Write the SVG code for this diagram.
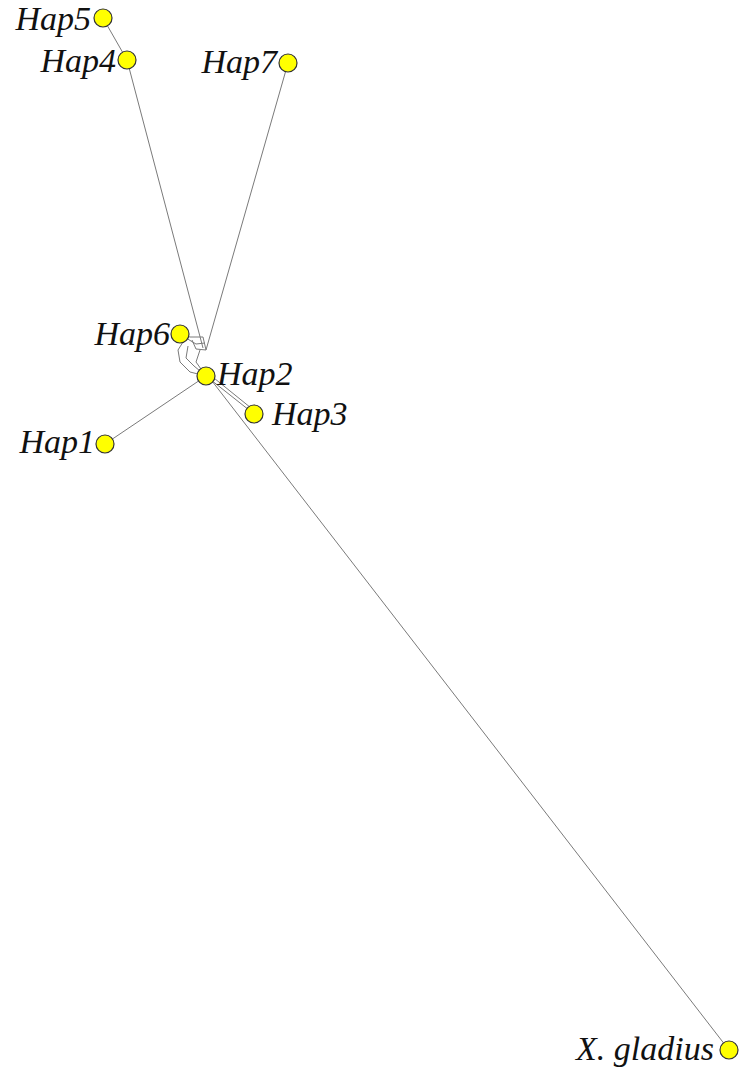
<svg xmlns="http://www.w3.org/2000/svg" width="743" height="1073" viewBox="0 0 743 1073">
<style>
.e{fill:none;stroke:#7a7a7a;stroke-width:1}
.n{fill:#ffff00;stroke:#333;stroke-width:1.2}
.t{font-family:"Liberation Serif",serif;font-style:italic;font-size:34px;fill:#111}
</style>
<rect width="743" height="1073" fill="#fff"/>
<g id="connectors">
<line class="e" x1="103" y1="18" x2="127" y2="60"/>
<line class="e" x1="127" y1="60" x2="203" y2="348"/>
<line class="e" x1="288" y1="63" x2="206" y2="350"/>
<line class="e" x1="105" y1="444" x2="206" y2="376"/>
<line class="e" x1="206" y1="376" x2="254" y2="414"/>
<line class="e" x1="209" y1="374" x2="256" y2="412"/>
<line class="e" x1="212" y1="381" x2="729" y2="1050"/>
<polyline class="e" points="180,334 190,337 203,337 206,350 196,349 192,340"/>
<polyline class="e" points="186,338 196,344 205,343"/>
<polyline class="e" points="183,342 178,350 180,362 190,372 206,376"/>
<polyline class="e" points="188,346 186,358 194,366 206,376"/>
<polyline class="e" points="200,350 196,362 206,376"/>
</g>
<g id="Hap5"><circle class="n" cx="103" cy="18" r="9"/><text class="t" x="91" y="30" text-anchor="end">Hap5</text></g>
<g id="Hap4"><circle class="n" cx="127" cy="60" r="9"/><text class="t" x="116" y="72" text-anchor="end">Hap4</text></g>
<g id="Hap7"><circle class="n" cx="288" cy="63" r="9"/><text class="t" x="277" y="73" text-anchor="end">Hap7</text></g>
<g id="Hap6"><circle class="n" cx="180" cy="334" r="9"/><text class="t" x="170" y="345" text-anchor="end">Hap6</text></g>
<g id="Hap2"><circle class="n" cx="206" cy="376" r="9"/><text class="t" x="217" y="385">Hap2</text></g>
<g id="Hap3"><circle class="n" cx="254" cy="414" r="9"/><text class="t" x="272" y="425">Hap3</text></g>
<g id="Hap1"><circle class="n" cx="105" cy="444" r="9"/><text class="t" x="95" y="453" text-anchor="end">Hap1</text></g>
<g id="Xgladius"><circle class="n" cx="729" cy="1050" r="9"/><text class="t" x="714" y="1060" text-anchor="end">X. gladius</text></g>
</svg>
